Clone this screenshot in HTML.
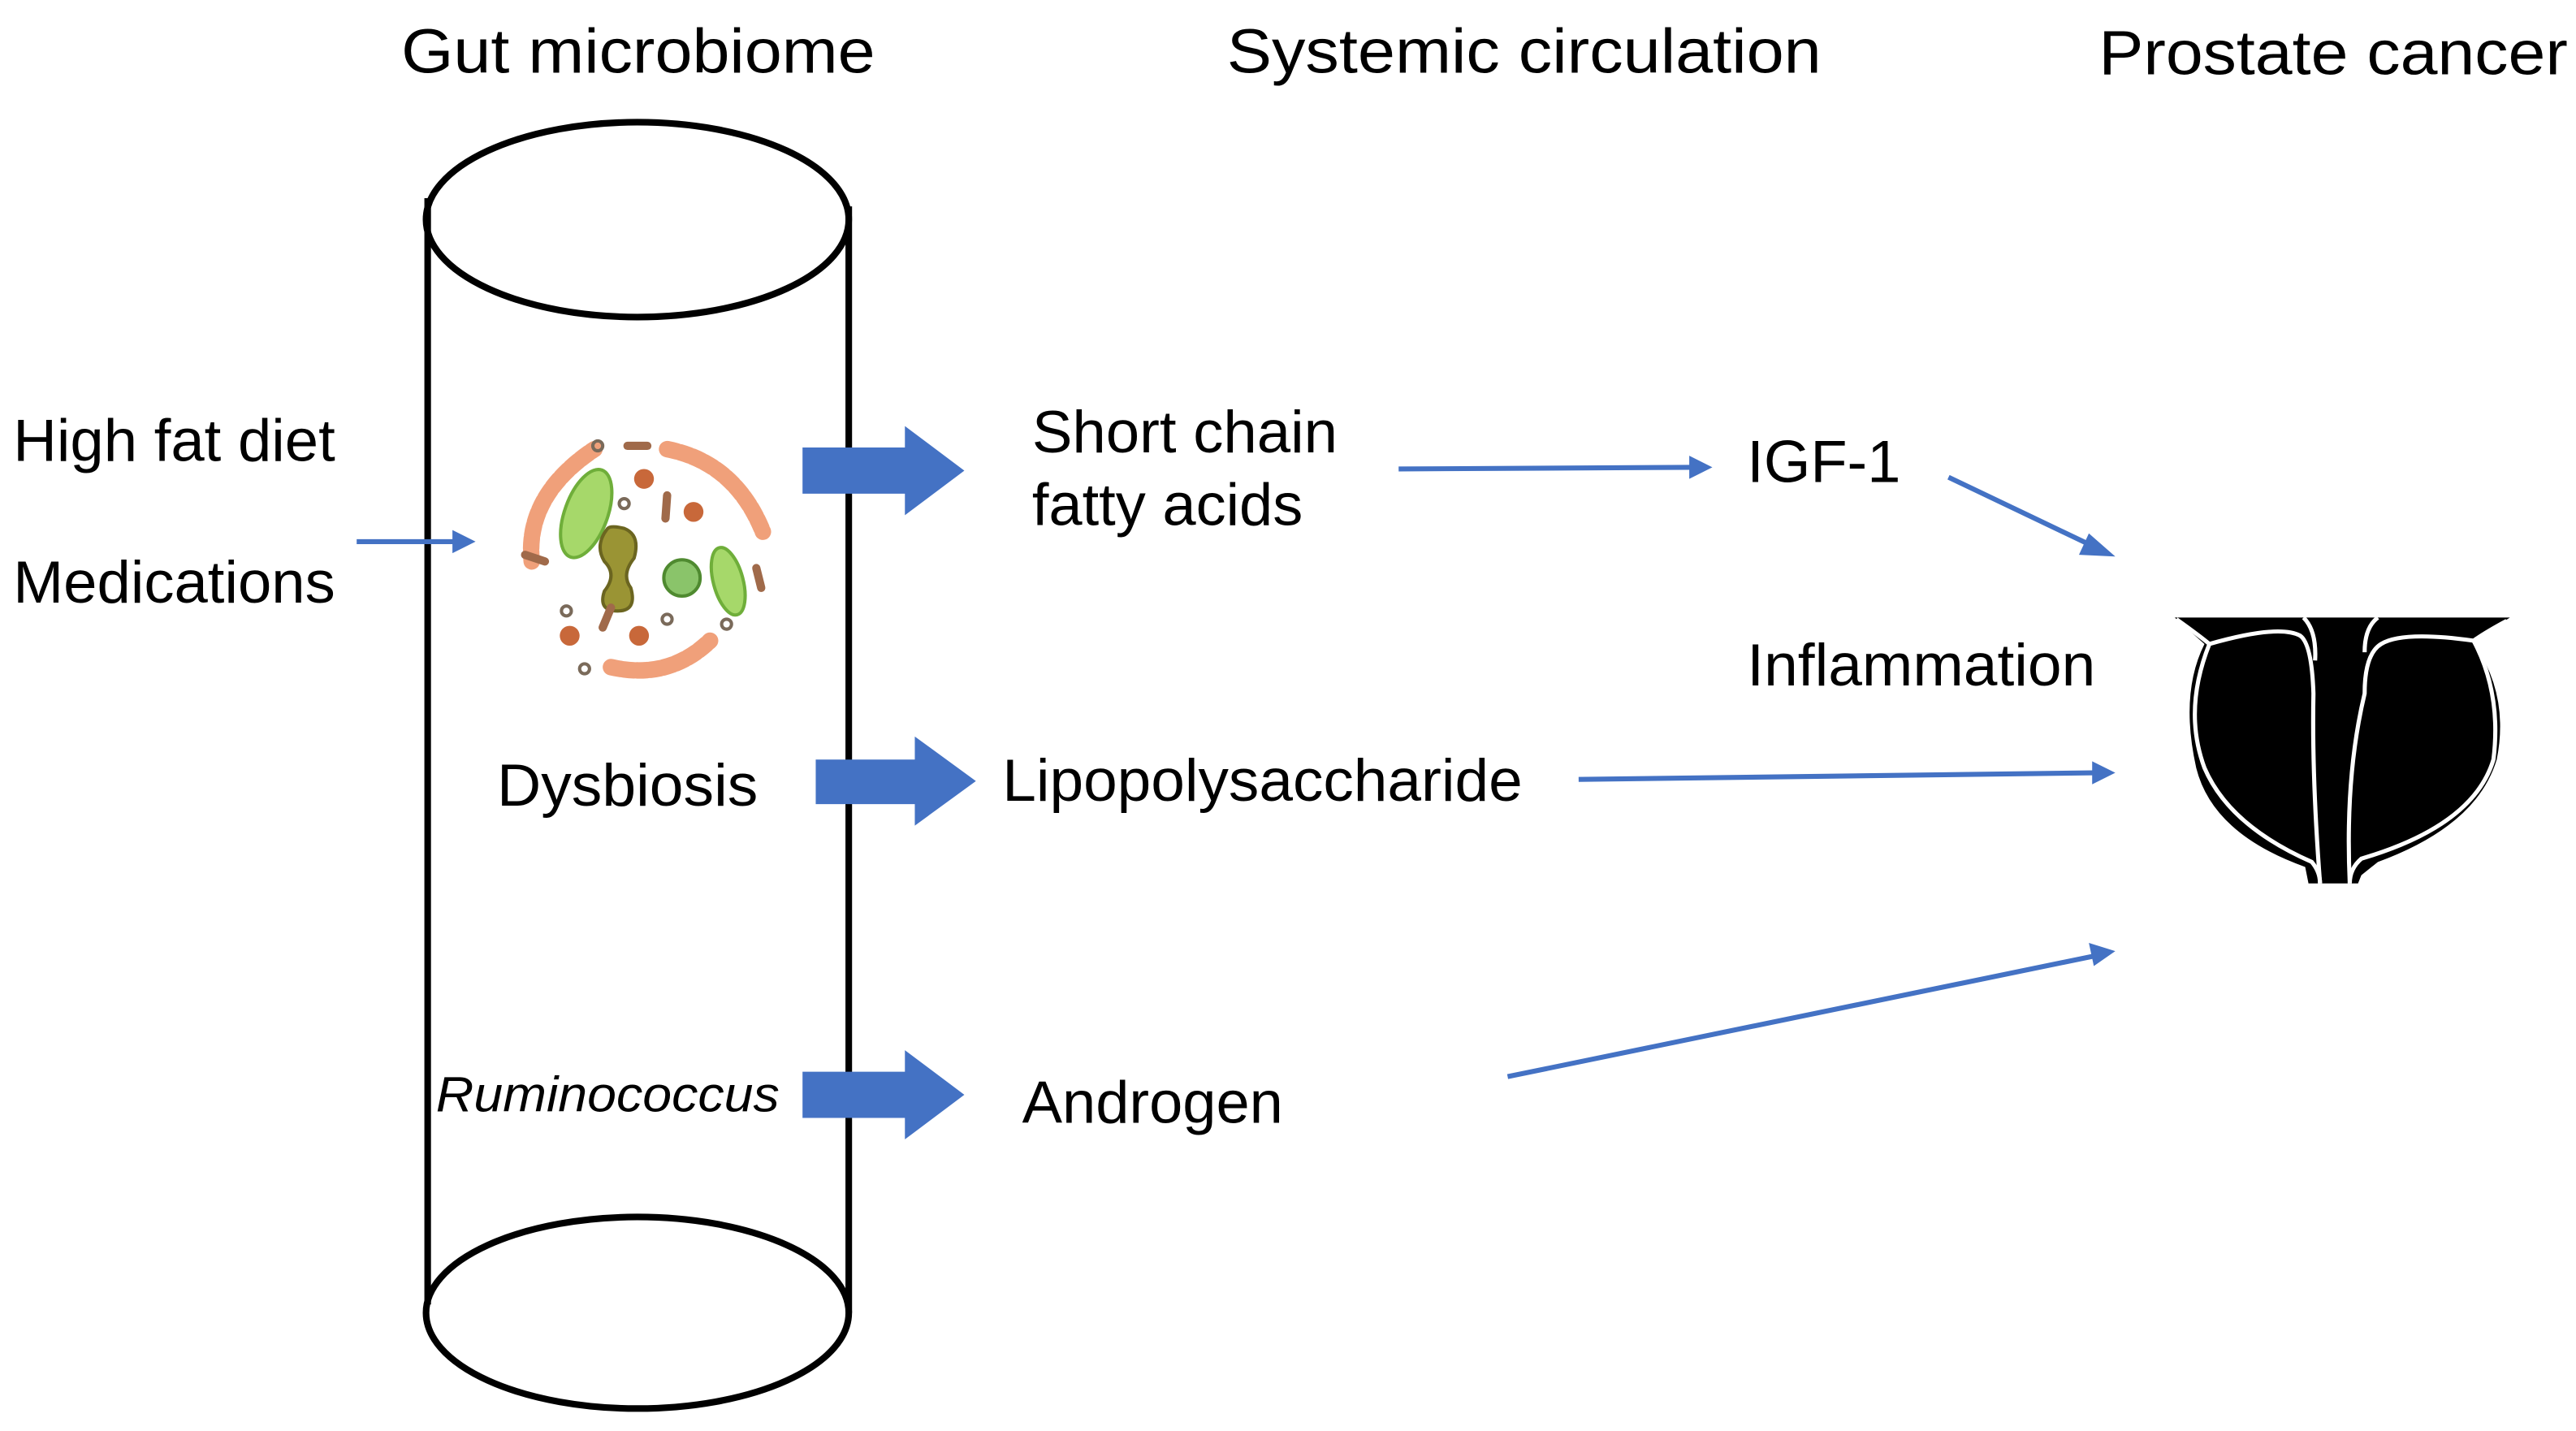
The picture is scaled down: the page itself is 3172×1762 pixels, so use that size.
<!DOCTYPE html>
<html><head><meta charset="utf-8"><style>
html,body{margin:0;padding:0;background:#fff;}
svg{display:block;}
text{font-family:"Liberation Sans",Arial,sans-serif;fill:#000;}
</style></head><body>
<svg width="3172" height="1762" viewBox="0 0 1560 866.6" preserveAspectRatio="none" xmlns="http://www.w3.org/2000/svg">
<!-- titles -->
<text x="243" y="44" font-size="38" textLength="287" lengthAdjust="spacingAndGlyphs">Gut microbiome</text>
<text x="743" y="44" font-size="38" textLength="360" lengthAdjust="spacingAndGlyphs">Systemic circulation</text>
<text x="1271" y="45" font-size="38" textLength="284" lengthAdjust="spacingAndGlyphs">Prostate cancer</text>
<!-- cylinder -->
<g fill="none" stroke="#000" stroke-width="4">
<line x1="259" y1="120" x2="259" y2="790"/>
<line x1="514" y1="125" x2="514" y2="795"/>
<ellipse cx="386" cy="133" rx="128" ry="59"/>
<ellipse cx="386" cy="795" rx="128" ry="58"/>
</g>
<!-- microbes -->
<g>
<path d="M322,340 Q318,300 360,272" stroke="#f0a07a" stroke-width="10" fill="none" stroke-linecap="round" stroke-dasharray="6 2"/>
<path d="M404,272 Q445,280 462,322" stroke="#f0a07a" stroke-width="10" fill="none" stroke-linecap="round" stroke-dasharray="6 2"/>
<path d="M370,404 Q405,412 430,388" stroke="#f0a07a" stroke-width="10" fill="none" stroke-linecap="round" stroke-dasharray="6 2"/>
<ellipse cx="355" cy="311" rx="13" ry="28" transform="rotate(20 355 311)" fill="#a6d86a" stroke="#6fae3a" stroke-width="2"/>
<ellipse cx="441" cy="352" rx="9" ry="21" transform="rotate(-15 441 352)" fill="#a6d86a" stroke="#6fae3a" stroke-width="2"/>
<path d="M368,320 q-8,10 -2,20 q8,8 0,18 q-4,12 8,12 q12,0 8,-14 q-6,-8 2,-18 q4,-14 -6,-18 q-8,-2 -10,0z" fill="#9a9434" stroke="#6b6520" stroke-width="2"/>
<circle cx="413" cy="350" r="11" fill="#8ac46a" stroke="#4f8a30" stroke-width="2"/>
<g fill="#c8683a"><circle cx="390" cy="290" r="6"/><circle cx="420" cy="310" r="6"/><circle cx="345" cy="385" r="6"/><circle cx="387" cy="385" r="6"/></g>
<g fill="none" stroke="#7a6a5a" stroke-width="2"><circle cx="362" cy="270" r="3"/><circle cx="378" cy="305" r="3"/><circle cx="343" cy="370" r="3" /><circle cx="404" cy="375" r="3"/><circle cx="354" cy="405" r="3"/><circle cx="440" cy="378" r="3"/></g>
<g stroke="#a06a4a" stroke-width="5" stroke-linecap="round"><line x1="380" y1="270" x2="392" y2="270"/><line x1="404" y1="300" x2="403" y2="314"/><line x1="318" y1="336" x2="330" y2="340"/><line x1="458" y1="344" x2="461" y2="356"/><line x1="365" y1="380" x2="370" y2="368"/></g>
</g>
<!-- block arrows -->
<g fill="#4472C4">
<polygon points="486,271 548,271 548,258 584,285 548,312 548,299 486,299"/>
<polygon points="494,460 554,460 554,446 591,473 554,500 554,487 494,487"/>
<polygon points="486,649 548,649 548,636 584,663 548,690 548,677 486,677"/>
</g>
<!-- thin arrows -->
<g stroke="#4472C4" stroke-width="3" fill="#4472C4">
<line x1="216" y1="328" x2="276" y2="328"/><polygon points="288,328 274,321 274,335" stroke="none"/>
<line x1="847" y1="284" x2="1024" y2="283"/><polygon points="1037,283 1023,276 1023,290" stroke="none"/>
<line x1="1180" y1="289" x2="1268" y2="331"/><polygon points="1281,337 1265,323 1259,336" stroke="none"/>
<line x1="956" y1="472" x2="1268" y2="468"/><polygon points="1281,468 1267,461 1267,475" stroke="none"/>
<line x1="913" y1="652" x2="1268" y2="579"/><polygon points="1281,576 1265,571 1268,585" stroke="none"/>
</g>
<!-- labels -->
<text x="8" y="279" font-size="36" textLength="195" lengthAdjust="spacingAndGlyphs">High fat diet</text>
<text x="8" y="365" font-size="36" textLength="195" lengthAdjust="spacingAndGlyphs">Medications</text>
<text x="625" y="274" font-size="36" textLength="185" lengthAdjust="spacingAndGlyphs">Short chain</text>
<text x="625" y="318" font-size="36" textLength="164" lengthAdjust="spacingAndGlyphs">fatty acids</text>
<text x="1058" y="292" font-size="36" textLength="93" lengthAdjust="spacingAndGlyphs">IGF-1</text>
<text x="1058" y="415" font-size="36" textLength="211" lengthAdjust="spacingAndGlyphs">Inflammation</text>
<text x="301" y="488" font-size="36" textLength="158" lengthAdjust="spacingAndGlyphs">Dysbiosis</text>
<text x="607" y="485" font-size="36" textLength="315" lengthAdjust="spacingAndGlyphs">Lipopolysaccharide</text>
<text x="264" y="673" font-size="30" font-style="italic" textLength="208" lengthAdjust="spacingAndGlyphs">Ruminococcus</text>
<text x="619" y="680" font-size="36" textLength="158" lengthAdjust="spacingAndGlyphs">Androgen</text>
<!-- prostate -->
<g>
<path d="M1317,374 L1520,374 L1497,388 Q1520,420 1512,460 Q1500,500 1440,522 L1430,530 L1428,535 L1398,535 L1396,525 Q1340,505 1330,465 Q1320,420 1335,390 Z" fill="#000"/>
<g fill="none" stroke="#fff" stroke-width="2.5">
<path d="M1318,375 Q1332,385 1338,390 Q1322,430 1335,465 Q1350,500 1400,522 Q1405,528 1405,535"/>
<path d="M1518,376 Q1505,383 1498,388 Q1515,420 1510,460 Q1498,500 1430,520 Q1423,526 1423,535"/>
<path d="M1338,390 Q1380,378 1393,385 Q1400,390 1401,420 Q1400,470 1405,535"/>
<path d="M1498,388 Q1455,382 1442,390 Q1432,396 1432,420 Q1420,470 1423,535"/>
<path d="M1395,374 Q1403,382 1402,400"/>
<path d="M1440,374 Q1432,380 1432,395"/>
</g>
</g>
</svg>
</body></html>
